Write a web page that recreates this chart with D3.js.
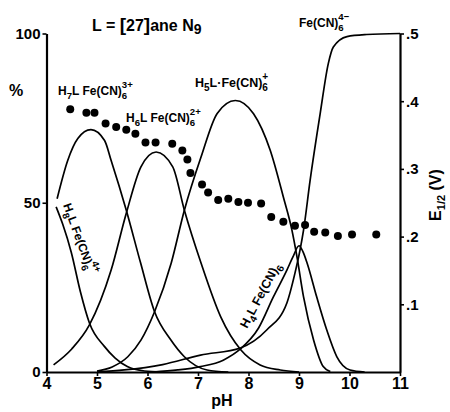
<!DOCTYPE html>
<html>
<head>
<meta charset="utf-8">
<script src="https://cdn.jsdelivr.net/npm/d3@7"></script>
<style>
  html, body { margin: 0; padding: 0; background: #fff; }
  svg { display: block; font-family: "Liberation Sans", Arial, sans-serif; }
</style>
</head>
<body>
<svg id="chart" width="450" height="412"></svg>
<script>
// ---------- data ----------
const phTicks = [4, 5, 6, 7, 8, 9, 10, 11];
const pctTicks = [0, 50, 100];
const eTicks = [0.1, 0.2, 0.3, 0.4, 0.5];

const h8lPH  = [4.19, 4.32, 4.49, 4.67, 4.85, 5.15, 5.36, 5.60, 5.94, 6.30];
const h8lPct = [48.8, 43.7, 35.4, 23.8, 14.5, 7.5, 4.1, 1.6, 0.3, 0];

const h7lPH  = [4.21, 4.42, 4.62, 4.88, 5.15, 5.28, 5.58, 5.86, 6.14, 6.46, 6.73, 7.18, 7.60];
const h7lPct = [51.2, 62.5, 69.0, 71.6, 68.4, 62.5, 47.8, 32.4, 17.8, 9.5, 4.5, 0.6, 0];

const h6lPH  = [4.14, 4.50, 4.85, 5.28, 5.58, 5.87, 6.17, 6.50, 6.73, 7.06, 7.45, 7.85, 8.23, 8.63, 9.00];
const h6lPct = [2.1, 6.8, 13.9, 30.1, 46.9, 60.6, 65.0, 60.6, 47.8, 32.2, 16.3, 6.5, 2.1, 0.6, 0];

const h5lPH  = [5.00, 5.30, 5.61, 5.87, 6.14, 6.47, 6.73, 7.06, 7.38, 7.74, 8.10, 8.43, 8.69, 8.86, 8.96, 9.09, 9.29, 9.48, 9.62];
const h5lPct = [0.3, 1.5, 4.5, 9.4, 17.8, 32.2, 47.8, 63.5, 76.4, 80.2, 76.3, 65.5, 51.7, 41.9, 34.0, 22.2, 9.4, 1.6, 0.1];

const h4lPH  = [6.10, 6.60, 7.05, 7.50, 7.84, 8.20, 8.49, 8.76, 8.88, 9.00, 9.08, 9.16, 9.35, 9.55, 9.75, 10.01, 10.30];
const h4lPct = [0, 0.6, 1.6, 3.5, 6.8, 13.0, 22.1, 30.1, 34.0, 37.3, 35.5, 32.2, 22.2, 12.4, 4.5, 0.6, 0];

const fecnPH  = [5.00, 5.54, 6.30, 7.05, 7.84, 8.36, 8.76, 8.92, 9.02, 9.09, 9.22, 9.42, 9.58, 9.68, 9.95, 10.34, 11.00];
const fecnPct = [0, 0.6, 2.2, 5.0, 7.1, 12.4, 20.4, 29.2, 36.0, 41.9, 56.6, 76.4, 91.1, 96.0, 99.1, 99.7, 100];

const ePH = [4.47, 4.79, 4.95, 5.17, 5.38, 5.58, 5.76, 5.96, 6.16, 6.49, 6.69, 6.79, 6.85, 7.08, 7.20, 7.40, 7.60, 7.80, 7.99, 8.25, 8.45, 8.69, 8.92, 9.12, 9.30, 9.52, 9.77, 10.05, 10.53];
const eV  = [0.388, 0.383, 0.383, 0.367, 0.362, 0.358, 0.352, 0.339, 0.339, 0.337, 0.327, 0.314, 0.294, 0.277, 0.265, 0.254, 0.256, 0.251, 0.250, 0.249, 0.229, 0.222, 0.216, 0.217, 0.207, 0.206, 0.201, 0.203, 0.203];

// ---------- chart ----------
const svg = d3.select("#chart");
const x  = d3.scaleLinear().domain([4, 11]).range([46.5, 400]);
const y  = d3.scaleLinear().domain([0, 100]).range([372, 33.5]);
const yE = d3.scaleLinear().domain([0, 0.5]).range([372, 33.5]);

const line = d3.line().x(d => x(d[0])).y(d => y(d[1])).curve(d3.curveMonotoneX);

const series = [
  [h8lPH, h8lPct], [h7lPH, h7lPct], [h6lPH, h6lPct],
  [h5lPH, h5lPct], [h4lPH, h4lPct], [fecnPH, fecnPct]
];
svg.append("g").selectAll("path").data(series).join("path")
  .attr("d", s => line(d3.zip(s[0], s[1])))
  .attr("fill", "none").attr("stroke", "#000").attr("stroke-width", 1.7);

// E1/2 dots
svg.append("g").selectAll("circle").data(d3.zip(ePH, eV)).join("circle")
  .attr("cx", d => x(d[0])).attr("cy", d => yE(d[1])).attr("r", 4).attr("fill", "#000");

// axes
function styleAxis(g, size) {
  g.select(".domain").attr("stroke", "#000").attr("stroke-width", 2.2);
  g.selectAll(".tick line").attr("stroke", "#000").attr("stroke-width", 1.6);
  g.selectAll(".tick text").attr("fill", "#000").style("font-size", size + "px")
    .style("font-weight", "bold").style("font-family", "'Liberation Sans', Arial, sans-serif");
}
const gx = svg.append("g").attr("transform", "translate(0,372)")
  .call(d3.axisBottom(x).tickValues(phTicks).tickFormat(d3.format("d")).tickSize(4).tickSizeOuter(0).tickPadding(2));
styleAxis(gx, 16);

const gy = svg.append("g").attr("transform", "translate(46.5,0)")
  .call(d3.axisLeft(y).tickValues(pctTicks).tickFormat(d3.format("d")).tickSize(4).tickSizeOuter(0).tickPadding(2));
styleAxis(gy, 15);

const gr = svg.append("g").attr("transform", "translate(400,0)")
  .call(d3.axisRight(yE).tickValues(eTicks).tickFormat(d => "." + Math.round(d * 10)).tickSize(4).tickSizeOuter(0).tickPadding(2));
styleAxis(gr, 15);

// text helpers
function chem(x0, y0, angle, segs, size) {
  const g = svg.append("g").attr("transform", `translate(${x0},${y0}) rotate(${angle})`)
    .style("font-weight", "bold");
  let cx = 0, lastStart = 0;
  segs.forEach(([t, kind]) => {
    const fs = kind === "n" ? size : size * 0.8;
    const dy = kind === "sub" ? size * 0.35 : kind === "sup" ? -size * 0.6 : 0;
    let sx = cx;
    if (kind === "sup" ) sx = lastStart;
    const el = g.append("text").attr("x", sx).attr("y", dy).style("font-size", fs + "px").text(t);
    const w = el.node().getComputedTextLength();
    if (kind !== "sup") { lastStart = cx; cx = sx + w; }
    else { cx = Math.max(cx, sx + w); }
  });
}

// title
const title = svg.append("text").attr("x", 92).attr("y", 31).style("font-weight", "bold").style("font-size", "16px");
title.append("tspan").text("L = ");
title.append("tspan").style("font-size", "19px").text("[");
title.append("tspan").text("27");
title.append("tspan").style("font-size", "19px").text("]");
title.append("tspan").text("ane N");
title.append("tspan").attr("dy", 3).style("font-size", "14px").text("9");

// axis titles
svg.append("text").attr("x", 9).attr("y", 96).style("font-weight", "bold").style("font-size", "16px").text("%");
svg.append("text").attr("x", 222).attr("y", 406).attr("text-anchor", "middle")
  .style("font-weight", "bold").style("font-size", "16px").text("pH");
const et = svg.append("text").attr("transform", "translate(441,195) rotate(-90)").attr("text-anchor", "middle")
  .style("font-weight", "bold").style("font-size", "16px");
et.append("tspan").text("E");
et.append("tspan").attr("dy", 4).style("font-size", "11px").text("1/2");
et.append("tspan").attr("dy", -4).text(" (V)");

// species labels
chem(58, 95, 0, [["H", "n"], ["7", "sub"], ["L Fe(CN)", "n"], ["6", "sub"], ["3+", "sup"]], 12);
chem(126, 122, 0, [["H", "n"], ["6", "sub"], ["L Fe(CN)", "n"], ["6", "sub"], ["2+", "sup"]], 12);
chem(195, 87, 0, [["H", "n"], ["5", "sub"], ["L·Fe(CN)", "n"], ["6", "sub"], ["+", "sup"]], 12.5);
chem(299, 27, 0, [["Fe(CN)", "n"], ["6", "sub"], ["4−", "sup"]], 12);
chem(63, 205, 70, [["H", "n"], ["8", "sub"], ["L Fe(CN)", "n"], ["6", "sub"], ["4+", "sup"]], 12);
chem(247, 329, -62, [["H", "n"], ["4", "sub"], ["L Fe(CN)", "n"], ["6", "sub"]], 12.5);
</script>
</body>
</html>
